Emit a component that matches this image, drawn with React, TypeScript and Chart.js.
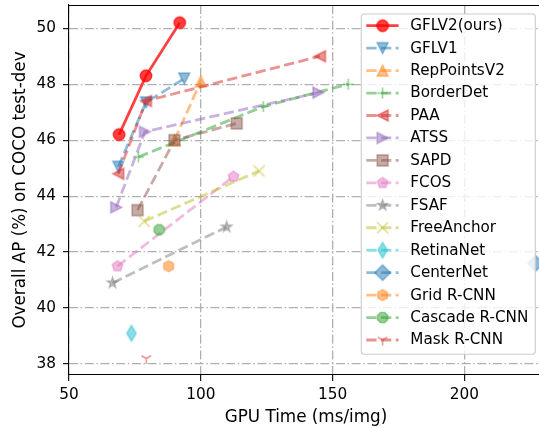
import React, { useEffect, useRef } from 'react';
import { Chart, registerables } from 'chart.js';

Chart.register(...registerables);

const FONT = 'DejaVu Sans';

// ---- axis ticks ----
const xTicks = [50, 100, 150, 200];
const yTicks = [38, 40, 42, 44, 46, 48, 50];

// ---- data (GPU time ms/img, AP %) ----
const gflv2Time = [69.0, 79.2, 92.0];
const gflv2AP = [46.2, 48.3, 50.2];
const gflv1Time = [68.7, 79.2, 93.7];
const gflv1AP = [45.05, 47.35, 48.2];
const repPointsV2Time = [90.0, 100.0];
const repPointsV2AP = [46.0, 48.1];
const borderDetTime = [76.3, 123.7, 155.9];
const borderDetAP = [45.4, 47.2, 48.0];
const paaTime = [68.7, 79.2, 145.2];
const paaAP = [44.8, 47.4, 49.0];
const atssTime = [67.9, 78.8, 144.6];
const atssAP = [43.6, 46.3, 47.7];
const sapdTime = [76.0, 90.0, 113.6];
const sapdAP = [43.5, 46.0, 46.6];
const fcosTime = [68.4, 112.4];
const fcosAP = [41.5, 44.7];
const fsafTime = [66.5, 109.8];
const fsafAP = [40.9, 42.9];
const freeAnchorTime = [78.5, 122.1];
const freeAnchorAP = [43.1, 44.9];
const retinaNetTime = [73.7];
const retinaNetAP = [39.1];
const centerNetTime = [227.0];
const centerNetAP = [41.6];
const gridRcnnTime = [87.8];
const gridRcnnAP = [41.5];
const cascadeRcnnTime = [84.2];
const cascadeRcnnAP = [42.8];
const maskRcnnTime = [79.3];
const maskRcnnAP = [38.2];

// ---- series table ----
type Series = {
  label: string;
  xs: number[];
  ys: number[];
  color: string;
  shape: string;
  alpha: number;
  solid: boolean;
};

const series: Series[] = [
  { label: 'GFLV2(ours)', xs: gflv2Time, ys: gflv2AP, color: '#ff0000', shape: 'o', alpha: 0.75, solid: true },
  { label: 'GFLV1', xs: gflv1Time, ys: gflv1AP, color: '#1f77b4', shape: 'v', alpha: 0.5, solid: false },
  { label: 'RepPointsV2', xs: repPointsV2Time, ys: repPointsV2AP, color: '#ff7f0e', shape: '^', alpha: 0.5, solid: false },
  { label: 'BorderDet', xs: borderDetTime, ys: borderDetAP, color: '#2ca02c', shape: '+', alpha: 0.5, solid: false },
  { label: 'PAA', xs: paaTime, ys: paaAP, color: '#d62728', shape: '<', alpha: 0.5, solid: false },
  { label: 'ATSS', xs: atssTime, ys: atssAP, color: '#9467bd', shape: '>', alpha: 0.5, solid: false },
  { label: 'SAPD', xs: sapdTime, ys: sapdAP, color: '#8c564b', shape: 's', alpha: 0.5, solid: false },
  { label: 'FCOS', xs: fcosTime, ys: fcosAP, color: '#e377c2', shape: 'p', alpha: 0.5, solid: false },
  { label: 'FSAF', xs: fsafTime, ys: fsafAP, color: '#7f7f7f', shape: '*', alpha: 0.5, solid: false },
  { label: 'FreeAnchor', xs: freeAnchorTime, ys: freeAnchorAP, color: '#bcbd22', shape: 'x', alpha: 0.5, solid: false },
  { label: 'RetinaNet', xs: retinaNetTime, ys: retinaNetAP, color: '#17becf', shape: 'd', alpha: 0.5, solid: false },
  { label: 'CenterNet', xs: centerNetTime, ys: centerNetAP, color: '#1f77b4', shape: 'D', alpha: 0.5, solid: false },
  { label: 'Grid R-CNN', xs: gridRcnnTime, ys: gridRcnnAP, color: '#ff7f0e', shape: 'h', alpha: 0.5, solid: false },
  { label: 'Cascade R-CNN', xs: cascadeRcnnTime, ys: cascadeRcnnAP, color: '#2ca02c', shape: '8', alpha: 0.5, solid: false },
  { label: 'Mask R-CNN', xs: maskRcnnTime, ys: maskRcnnAP, color: '#d62728', shape: '1', alpha: 0.5, solid: false },
];

const LINE_DASH = [10.3, 4.4];
const GRID_DASH = [9, 2.6, 1.5, 2.6];
const MARKER_SIZE = 11;

function rgba(hex: string, a: number): string {
  const n = parseInt(hex.slice(1), 16);
  return `rgba(${(n >> 16) & 255},${(n >> 8) & 255},${n & 255},${a})`;
}

function makeMarker(shape: string, hex: string, alpha: number, size: number): HTMLCanvasElement {
  const r = size / 2;
  const ext = shape === 'D' || shape === 'd' ? r * Math.SQRT2 : r;
  const dim = Math.ceil(ext * 2 + 4);
  const c = document.createElement('canvas');
  c.width = dim;
  c.height = dim;
  const ctx = c.getContext('2d') as CanvasRenderingContext2D;
  ctx.translate(dim / 2, dim / 2);
  const col = rgba(hex, alpha);
  ctx.fillStyle = col;
  ctx.strokeStyle = col;
  ctx.lineJoin = 'miter';
  const polygon = (n: number, rad: number, rot: number) => {
    ctx.beginPath();
    for (let k = 0; k < n; k++) {
      const t = rot + (2 * Math.PI * k) / n + Math.PI / 2;
      const px = rad * Math.cos(t);
      const py = -rad * Math.sin(t);
      if (k === 0) ctx.moveTo(px, py);
      else ctx.lineTo(px, py);
    }
    ctx.closePath();
  };
  let lineOnly = false;
  switch (shape) {
    case 'o':
      ctx.beginPath();
      ctx.arc(0, 0, r, 0, Math.PI * 2);
      break;
    case 'v':
      ctx.beginPath();
      ctx.moveTo(0, r);
      ctx.lineTo(-r, -r);
      ctx.lineTo(r, -r);
      ctx.closePath();
      break;
    case '^':
      ctx.beginPath();
      ctx.moveTo(0, -r);
      ctx.lineTo(-r, r);
      ctx.lineTo(r, r);
      ctx.closePath();
      break;
    case '<':
      ctx.beginPath();
      ctx.moveTo(-r, 0);
      ctx.lineTo(r, -r);
      ctx.lineTo(r, r);
      ctx.closePath();
      break;
    case '>':
      ctx.beginPath();
      ctx.moveTo(r, 0);
      ctx.lineTo(-r, -r);
      ctx.lineTo(-r, r);
      ctx.closePath();
      break;
    case 's':
      ctx.beginPath();
      ctx.rect(-r, -r, 2 * r, 2 * r);
      break;
    case 'p':
      polygon(5, r, 0);
      break;
    case 'h':
      polygon(6, r, 0);
      break;
    case '8':
      polygon(8, r, Math.PI / 8);
      break;
    case '*': {
      ctx.beginPath();
      for (let k = 0; k < 10; k++) {
        const rad = k % 2 === 0 ? r : r * 0.381966;
        const t = (Math.PI * k) / 5 + Math.PI / 2;
        const px = rad * Math.cos(t);
        const py = -rad * Math.sin(t);
        if (k === 0) ctx.moveTo(px, py);
        else ctx.lineTo(px, py);
      }
      ctx.closePath();
      break;
    }
    case 'D': {
      const e = r * Math.SQRT2;
      ctx.beginPath();
      ctx.moveTo(0, -e);
      ctx.lineTo(e, 0);
      ctx.lineTo(0, e);
      ctx.lineTo(-e, 0);
      ctx.closePath();
      break;
    }
    case 'd': {
      const e = r * Math.SQRT2;
      ctx.beginPath();
      ctx.moveTo(0, -e);
      ctx.lineTo(e * 0.6, 0);
      ctx.lineTo(0, e);
      ctx.lineTo(-e * 0.6, 0);
      ctx.closePath();
      break;
    }
    case '+':
      lineOnly = true;
      ctx.beginPath();
      ctx.moveTo(-r, 0);
      ctx.lineTo(r, 0);
      ctx.moveTo(0, -r);
      ctx.lineTo(0, r);
      break;
    case 'x':
      lineOnly = true;
      ctx.beginPath();
      ctx.moveTo(-r, -r);
      ctx.lineTo(r, r);
      ctx.moveTo(-r, r);
      ctx.lineTo(r, -r);
      break;
    case '1':
      lineOnly = true;
      ctx.beginPath();
      ctx.moveTo(0, 0);
      ctx.lineTo(0, r);
      ctx.moveTo(0, 0);
      ctx.lineTo(0.866 * r, -0.5 * r);
      ctx.moveTo(0, 0);
      ctx.lineTo(-0.866 * r, -0.5 * r);
      break;
  }
  if (lineOnly) {
    ctx.lineWidth = 1.6;
    ctx.stroke();
  } else {
    ctx.fill();
    ctx.lineWidth = 1.4;
    ctx.stroke();
  }
  return c;
}

const mplLegend = {
  id: 'mplLegend',
  afterDraw(chart: any) {
    const ctx: CanvasRenderingContext2D = chart.ctx;
    const a = chart.chartArea;
    ctx.save();
    // top spine
    ctx.strokeStyle = '#000';
    ctx.lineWidth = 1.1;
    ctx.setLineDash([]);
    ctx.beginPath();
    ctx.moveTo(a.left, a.top + 0.5);
    ctx.lineTo(a.right, a.top + 0.5);
    ctx.stroke();

    const markers: HTMLCanvasElement[] = chart.$markers || [];
    const w = 174;
    const right = 535.3;
    const left = right - w;
    const top = 14.0;
    const step = 22.45;
    const first = 11.7;
    const h = first + (series.length - 1) * step + 14.2;
    const rad = 3;
    ctx.beginPath();
    ctx.moveTo(left + rad, top);
    ctx.lineTo(left + w - rad, top);
    ctx.quadraticCurveTo(left + w, top, left + w, top + rad);
    ctx.lineTo(left + w, top + h - rad);
    ctx.quadraticCurveTo(left + w, top + h, left + w - rad, top + h);
    ctx.lineTo(left + rad, top + h);
    ctx.quadraticCurveTo(left, top + h, left, top + h - rad);
    ctx.lineTo(left, top + rad);
    ctx.quadraticCurveTo(left, top, left + rad, top);
    ctx.closePath();
    ctx.fillStyle = 'rgba(255,255,255,0.8)';
    ctx.fill();
    ctx.strokeStyle = '#cccccc';
    ctx.lineWidth = 1.1;
    ctx.stroke();

    series.forEach((s, i) => {
      const y = top + first + i * step;
      ctx.save();
      ctx.strokeStyle = rgba(s.color, s.alpha);
      ctx.lineWidth = 2.8;
      ctx.lineCap = 'butt';
      ctx.setLineDash(s.solid ? [] : LINE_DASH);
      ctx.beginPath();
      ctx.moveTo(left + 5, y);
      ctx.lineTo(left + 37.3, y);
      ctx.stroke();
      ctx.restore();
      const m = markers[i];
      if (m) ctx.drawImage(m, left + 21.3 - m.width / 2, y - m.height / 2);
      ctx.fillStyle = '#000';
      ctx.font = `15.2px "${FONT}"`;
      ctx.textAlign = 'left';
      ctx.textBaseline = 'middle';
      ctx.fillText(s.label, left + 49, y + 0.5);
    });
    ctx.restore();
  },
};

export default function App() {
  const ref = useRef<HTMLCanvasElement>(null);
  useEffect(() => {
    const canvas = ref.current;
    if (!canvas) return;
    const markers = series.map((s) =>
      makeMarker(s.shape, s.color, s.alpha, s.shape === 'o' ? MARKER_SIZE + 0.5 : MARKER_SIZE)
    );
    const datasets = series.map((s, i) => ({
      label: s.label,
      data: s.xs.map((x, k) => ({ x, y: s.ys[k] })),
      showLine: s.xs.length > 1,
      borderColor: rgba(s.color, s.alpha),
      backgroundColor: rgba(s.color, s.alpha),
      borderWidth: 2.8,
      borderDash: s.solid ? [] : LINE_DASH,
      borderCapStyle: 'butt',
      pointStyle: markers[i],
      pointRadius: 6,
      pointHoverRadius: 6,
      tension: 0,
      order: i === 0 ? 0 : 100 - i,
    }));
    const tickFont = { family: FONT, size: 15.3 };
    const chart = new Chart(canvas, {
      type: 'scatter',
      data: { datasets: datasets as any },
      options: {
        animation: false,
        responsive: false,
        devicePixelRatio: 1,
        events: [],
        layout: { autoPadding: false, padding: { top: 5, right: 0, bottom: 0, left: 0 } },
        plugins: { legend: { display: false }, tooltip: { enabled: false } },
        scales: {
          x: {
            type: 'linear',
            min: 50,
            max: 229.8,
            afterBuildTicks: (s: any) => {
              s.ticks = xTicks.map((v) => ({ value: v }));
            },
            afterFit: (s: any) => {
              s.height = 53;
              s.paddingLeft = 0;
              s.paddingRight = 0;
            },
            ticks: {
              font: tickFont,
              color: '#000',
              padding: 5,
              maxRotation: 0,
              autoSkip: false,
              callback: (v: any) => String(v),
            },
            grid: {
              color: '#b0b0b0',
              lineWidth: 1.3,
              tickColor: '#000',
              tickLength: 6,
              tickWidth: 1.1,
            },
            border: { display: true, color: '#000', width: 1.1, dash: GRID_DASH },
            title: {
              display: true,
              text: 'GPU Time (ms/img)',
              font: { family: FONT, size: 16.8 },
              color: '#000',
              padding: { top: 0, bottom: 0 },
            },
          },
          y: {
            type: 'linear',
            min: 37.61,
            max: 50.83,
            afterBuildTicks: (s: any) => {
              s.ticks = yTicks.map((v) => ({ value: v }));
            },
            afterFit: (s: any) => {
              s.width = 69;
              s.paddingTop = 0;
              s.paddingBottom = 0;
            },
            ticks: {
              font: tickFont,
              color: '#000',
              padding: 7,
              autoSkip: false,
              callback: (v: any) => String(v),
            },
            grid: {
              color: '#b0b0b0',
              lineWidth: 1.3,
              tickColor: '#000',
              tickLength: 6,
              tickWidth: 1.1,
            },
            border: { display: true, color: '#000', width: 1.1, dash: GRID_DASH },
            title: {
              display: true,
              text: 'Overall AP (%) on COCO test-dev',
              font: { family: FONT, size: 16.8 },
              color: '#000',
              padding: { top: 11, bottom: 0 },
            },
          },
        },
      } as any,
      plugins: [
        {
          id: 'markerStore',
          beforeInit(c: any) {
            c.$markers = markers;
          },
        },
        mplLegend,
      ],
    });
    return () => chart.destroy();
  }, []);
  return (
    <div
      style={{
        position: 'fixed',
        left: 0,
        top: 0,
        width: 539,
        height: 428,
        overflow: 'hidden',
        background: '#fff',
      }}
    >
      <canvas ref={ref} width={543} height={428} style={{ display: 'block', width: 543, height: 428 }} />
    </div>
  );
}
